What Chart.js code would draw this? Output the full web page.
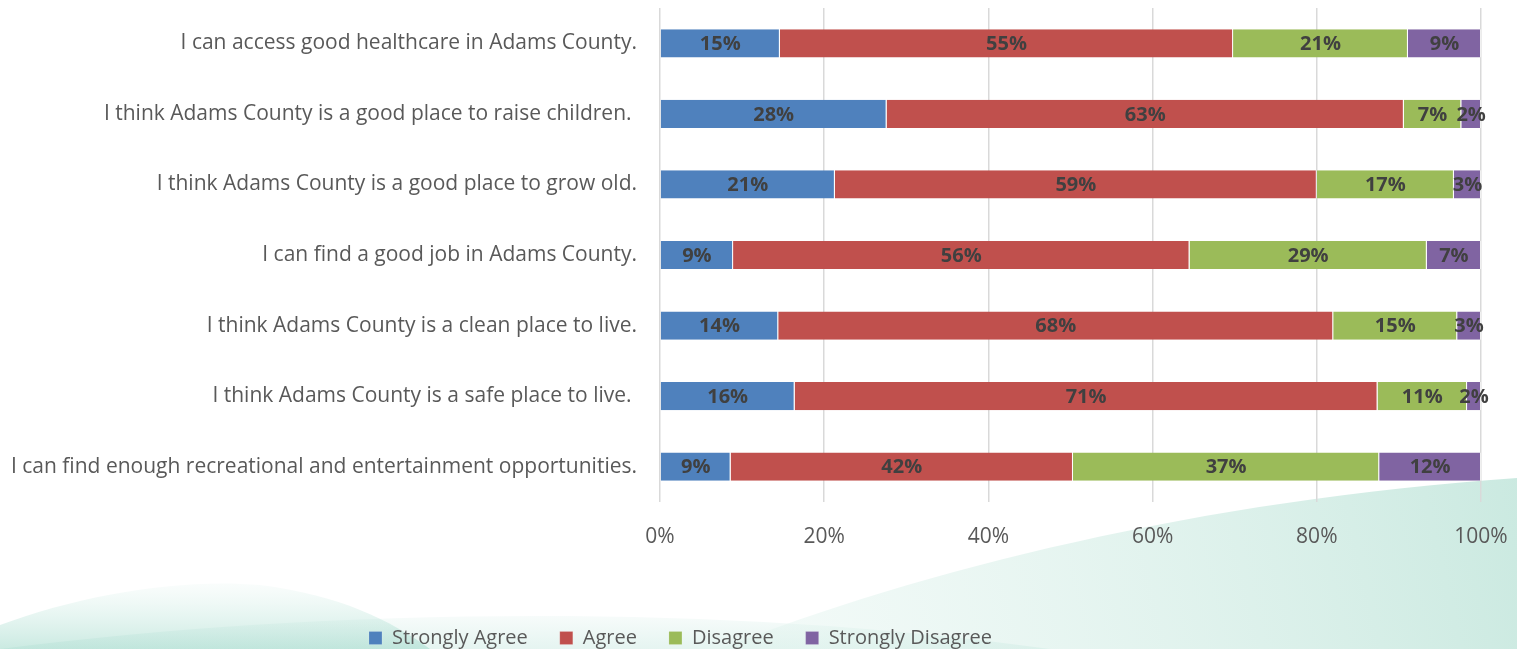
<!DOCTYPE html>
<html lang="en">
<head>
    <meta charset="UTF-8">
    <title>Adams County Survey</title>
    <script src="https://cdn.jsdelivr.net/npm/chart.js"></script>
    <style>
        html, body { margin: 0; padding: 0; background: #fff; }
        #wrap { width: 1517px; height: 649px; position: relative; }
    </style>
</head>
<body>
    <div id="wrap"><canvas id="myChart"></canvas></div>

    <script>
        const statements = [
            'I can access good healthcare in Adams County.',
            'I think Adams County is a good place to raise children. ',
            'I think Adams County is a good place to grow old.',
            'I can find a good job in Adams County.',
            'I think Adams County is a clean place to live.',
            'I think Adams County is a safe place to live. ',
            'I can find enough recreational and entertainment opportunities.'
        ];
        const stronglyAgree = [14.6, 27.6, 21.3, 8.9, 14.4, 16.4, 8.6];
        const agree = [55.2, 63.0, 58.7, 55.6, 67.6, 71.0, 41.7];
        const disagree = [21.3, 7.0, 16.7, 28.9, 15.1, 10.9, 37.3];
        const stronglyDisagree = [8.9, 2.4, 3.3, 6.6, 2.9, 1.7, 12.4];
        const xTicks = [0, 20, 40, 60, 80, 100];

        const FONT = '"Open Sans", sans-serif';

        // soft teal waves behind the chart
        const backdrop = {
            id: 'backdrop',
            beforeDraw(chart) {
                const ctx = chart.ctx;
                const w = chart.width, h = chart.height;
                ctx.save();
                ctx.fillStyle = '#ffffff';
                ctx.fillRect(0, 0, w, h);

                let g = ctx.createLinearGradient(0, 570, 0, h);
                g.addColorStop(0, 'rgba(215,240,233,0.0)');
                g.addColorStop(1, 'rgba(180,225,213,0.7)');
                ctx.fillStyle = g;
                ctx.beginPath();
                ctx.moveTo(0, 625);
                ctx.bezierCurveTo(80, 595, 180, 578, 260, 585);
                ctx.bezierCurveTo(340, 595, 390, 620, 430, h);
                ctx.lineTo(0, h);
                ctx.closePath();
                ctx.fill();

                g = ctx.createLinearGradient(0, 600, 0, h);
                g.addColorStop(0, 'rgba(170,220,208,0.0)');
                g.addColorStop(1, 'rgba(170,220,208,0.3)');
                ctx.fillStyle = g;
                ctx.beginPath();
                ctx.moveTo(0, h);
                ctx.bezierCurveTo(300, 610, 700, 600, 1050, h);
                ctx.closePath();
                ctx.fill();

                g = ctx.createLinearGradient(800, h, 1517, 480);
                g.addColorStop(0, 'rgba(222,242,236,0.4)');
                g.addColorStop(1, 'rgba(185,226,214,0.75)');
                ctx.fillStyle = g;
                ctx.beginPath();
                ctx.moveTo(720, h);
                ctx.bezierCurveTo(920, 570, 1200, 500, 1517, 478);
                ctx.lineTo(1517, h);
                ctx.closePath();
                ctx.fill();
                ctx.restore();
            }
        };

        // legend sits a little left of the canvas centre
        const legendShift = {
            id: 'legendShift',
            afterLayout(chart) {
                chart.legend.left -= 60;
                chart.legend.right -= 60;
            }
        };

        // percentage text in the middle of each segment
        const segmentLabels = {
            id: 'segmentLabels',
            afterDatasetsDraw(chart) {
                const ctx = chart.ctx;
                ctx.save();
                ctx.font = 'bold 20px ' + FONT;
                ctx.fillStyle = '#404040';
                ctx.textAlign = 'center';
                ctx.textBaseline = 'middle';
                chart.data.datasets.forEach((ds, i) => {
                    chart.getDatasetMeta(i).data.forEach((bar, j) => {
                        const x = (bar.x + bar.base) / 2;
                        ctx.fillText(Math.round(ds.data[j]) + '%', x, bar.y + 1);
                    });
                });
                ctx.restore();
            }
        };

        const ctx = document.getElementById('myChart').getContext('2d');
        new Chart(ctx, {
            type: 'bar',
            data: {
                labels: statements,
                datasets: [
                    { label: 'Strongly Agree', data: stronglyAgree, backgroundColor: '#4f81bd' },
                    { label: 'Agree', data: agree, backgroundColor: '#c0504d' },
                    { label: 'Disagree', data: disagree, backgroundColor: '#9bbb59' },
                    { label: 'Strongly Disagree', data: stronglyDisagree, backgroundColor: '#8064a2' }
                ].map(d => Object.assign(d, {
                    borderColor: 'rgba(255,255,255,0.6)',
                    borderWidth: { left: 0, right: 1, top: 0, bottom: 0 },
                    borderSkipped: false,
                    categoryPercentage: 1,
                    barPercentage: 0.4
                }))
            },
            options: {
                indexAxis: 'y',
                responsive: true,
                maintainAspectRatio: false,
                animation: false,
                layout: { padding: { top: 8, right: 36, bottom: -9, left: 0 } },
                scales: {
                    x: {
                        stacked: true,
                        min: 0,
                        max: 100,
                        afterBuildTicks: scale => { scale.ticks = xTicks.map(v => ({ value: v })); },
                        afterFit: scale => {
                            scale.height = 94;
                            scale.paddingLeft = 0;
                            scale.paddingRight = 0;
                        },
                        grid: { color: '#d9d9d9', lineWidth: 1.5, drawTicks: false },
                        border: { display: false },
                        ticks: {
                            padding: 22,
                            color: '#595959',
                            font: { family: FONT, size: 21 },
                            callback: v => v + '%'
                        }
                    },
                    y: {
                        stacked: true,
                        afterFit: scale => {
                            scale.width = 660;
                            scale.paddingTop = 0;
                            scale.paddingBottom = 0;
                        },
                        grid: { display: false, drawTicks: false },
                        border: { display: false },
                        ticks: {
                            padding: 23,
                            color: '#595959',
                            font: { family: FONT, size: 21 }
                        }
                    }
                },
                plugins: {
                    legend: {
                        position: 'bottom',
                        labels: {
                            color: '#595959',
                            font: { family: FONT, size: 20 },
                            boxWidth: 13,
                            boxHeight: 13,
                            padding: 32
                        }
                    },
                    tooltip: { enabled: false }
                }
            },
            plugins: [backdrop, legendShift, segmentLabels]
        });
    </script>
</body>
</html>
